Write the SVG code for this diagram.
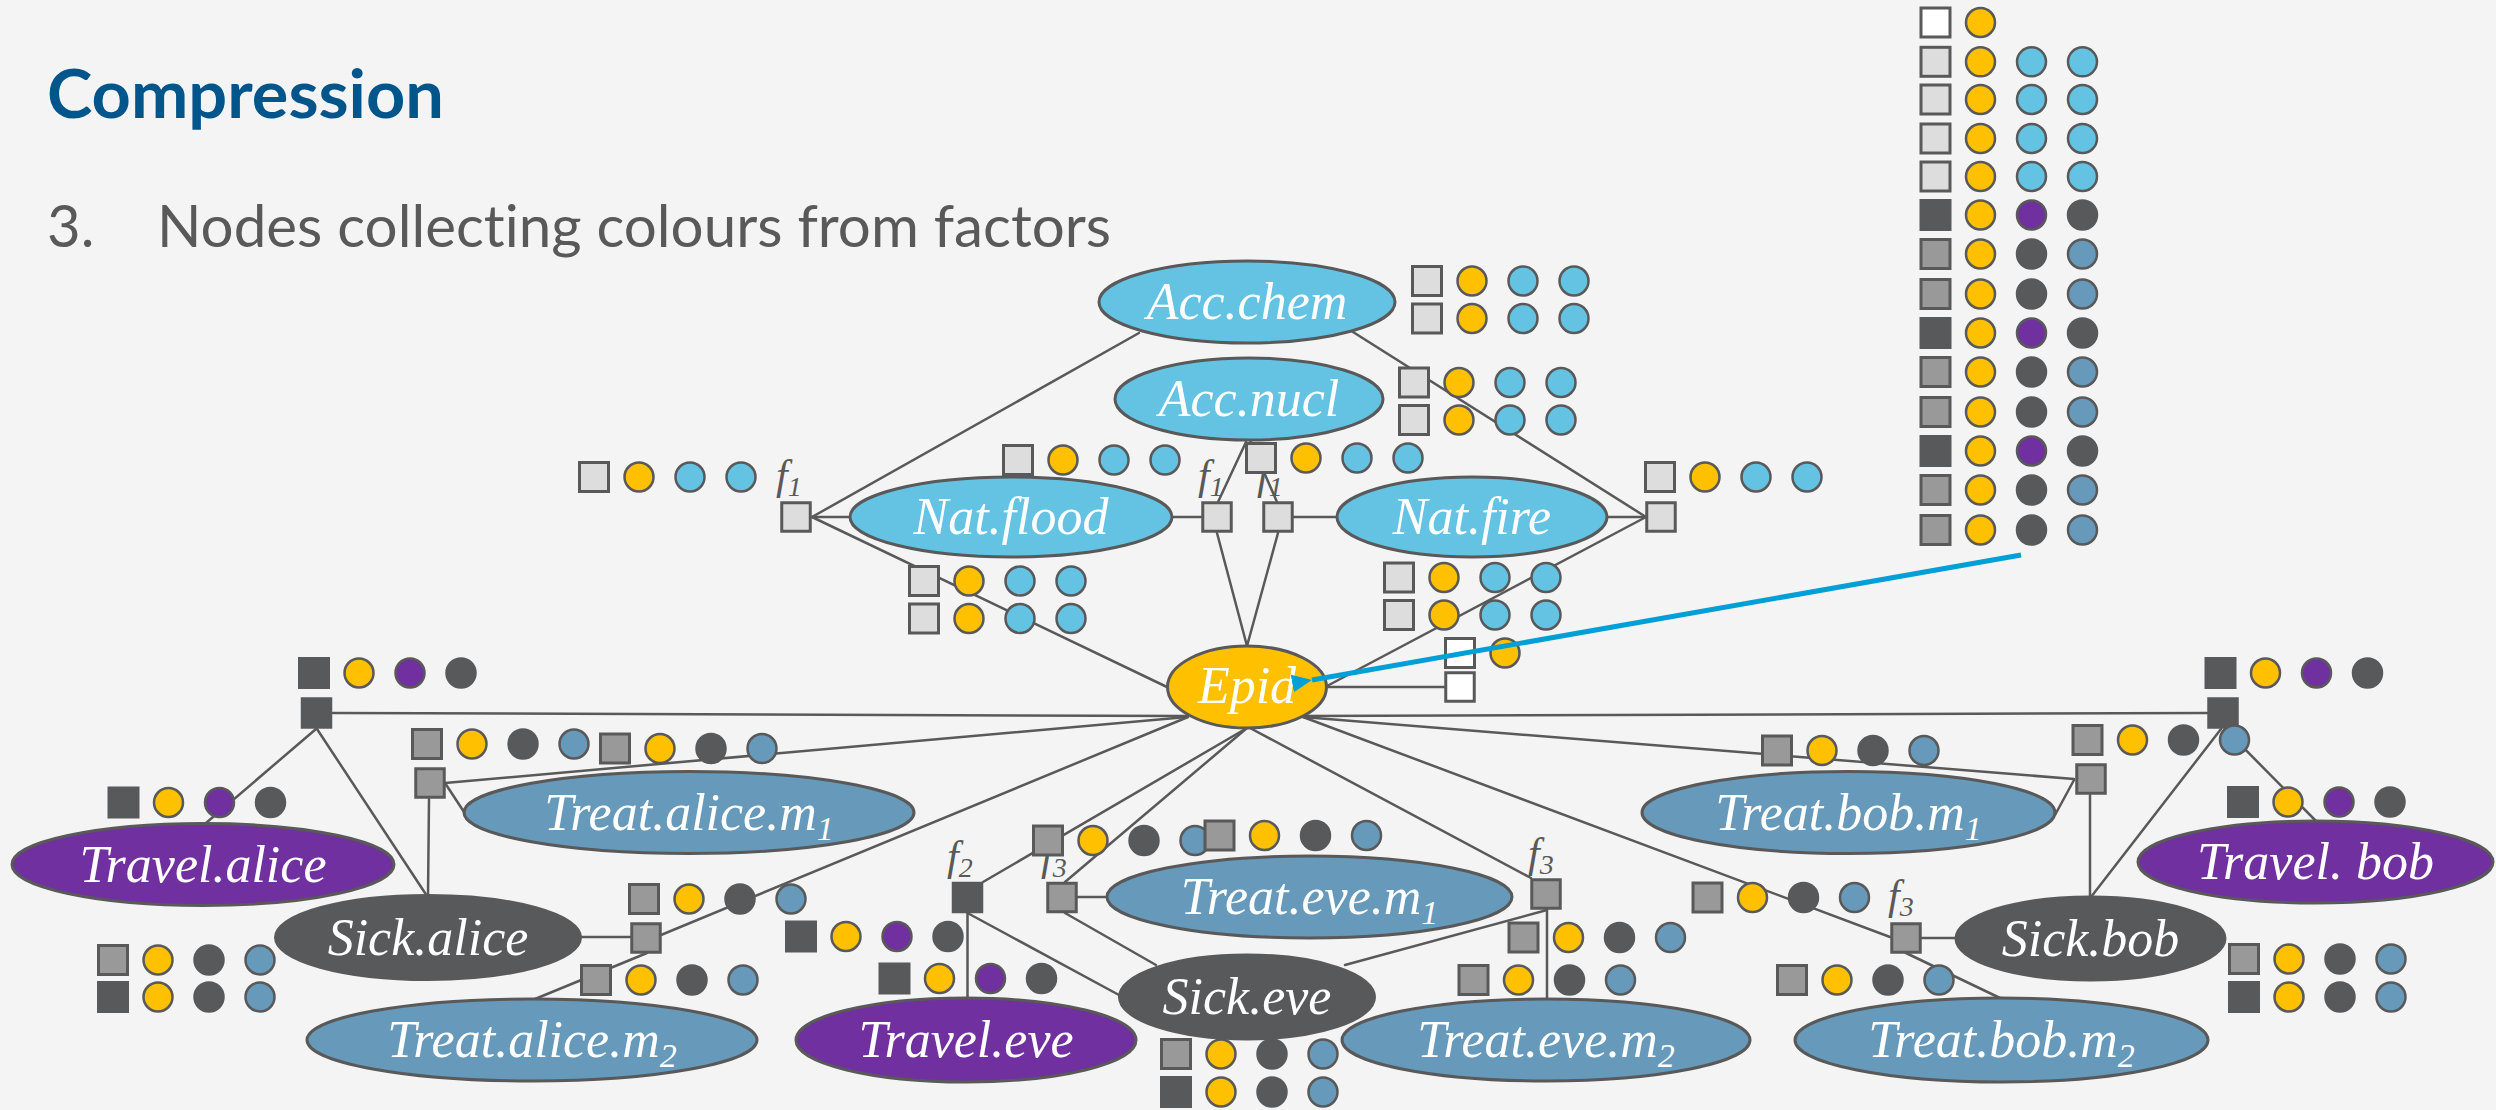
<svg xmlns="http://www.w3.org/2000/svg" width="2496" height="1110" viewBox="0 0 2496 1110">
  <style>
    .bg { fill: #F4F4F4; }
    .title { font-family: Lato, "Open Sans", sans-serif; font-weight: bold; font-size: 67px; fill: #00558B; }
    .sub-h { font-family: Lato, "Open Sans", sans-serif; font-size: 58px; fill: #595959; font-variant-ligatures: none; }
    .edge { stroke: #595959; stroke-width: 2.5; fill: none; stroke-linecap: round; }
    .node { stroke: #595959; stroke-width: 3; }
    .lbl { font-family: "Liberation Serif", "DejaVu Serif", serif; font-style: italic; font-size: 52px; fill: #FFFFFF; text-anchor: middle; }
    .lsub { font-size: 34px; }
    .fl { font-family: "Liberation Serif", "DejaVu Serif", serif; font-style: italic; font-size: 42px; fill: #595959; }
    .fsub { font-size: 28px; }
    .nLB { fill: #64C3E3; }
    .nY { fill: #FFC000; }
    .nP { fill: #7030A0; }
    .nD { fill: #58595B; }
    .nS { fill: #6699BA; }
    .sq { stroke: #595959; stroke-width: 3; }
    .sqW { fill: #FFFFFF; }
    .sqL { fill: #DDDDDD; }
    .sqG { fill: #999999; }
    .sqD { fill: #58595B; stroke: #58595B; stroke-width: 3; }
    .c { stroke: #595959; stroke-width: 2.5; }
    .cY { fill: #FFC000; }
    .cB { fill: #64C3E3; }
    .cP { fill: #7030A0; }
    .cS { fill: #6699BA; }
    .cD { fill: #58595B; stroke: #58595B; stroke-width: 2.5; }
    .arrow { stroke: #00A0D6; stroke-width: 5; fill: none; }
  </style>
  <defs>
    <marker id="head" markerUnits="userSpaceOnUse" markerWidth="22" markerHeight="20" refX="2" refY="10" orient="auto">
      <path d="M22,1 L2,10 L22,19 Z" fill="#00A0D6"/>
    </marker>
    <!-- colour lists: square + circles, origin at the square centre -->
    <g id="rW">
      <rect class="sq sqW" x="-14.5" y="-14.5" width="29" height="29"/>
      <circle class="c cY" cx="45" cy="0" r="14.5"/>
    </g>
    <g id="rL">
      <rect class="sq sqL" x="-14.5" y="-14.5" width="29" height="29"/>
      <circle class="c cY" cx="45" cy="0" r="14.5"/>
      <circle class="c cB" cx="96" cy="0" r="14.5"/>
      <circle class="c cB" cx="147" cy="0" r="14.5"/>
    </g>
    <g id="rD">
      <rect class="sqD" x="-14.5" y="-14.5" width="29" height="29"/>
      <circle class="c cY" cx="45" cy="0" r="14.5"/>
      <circle class="c cP" cx="96" cy="0" r="14.5"/>
      <circle class="cD" cx="147" cy="0" r="14.5"/>
    </g>
    <g id="rG">
      <rect class="sq sqG" x="-14.5" y="-14.5" width="29" height="29"/>
      <circle class="c cY" cx="45" cy="0" r="14.5"/>
      <circle class="cD" cx="96" cy="0" r="14.5"/>
      <circle class="c cS" cx="147" cy="0" r="14.5"/>
    </g>
    <g id="rGd">
      <rect class="sqD" x="-14.5" y="-14.5" width="29" height="29"/>
      <circle class="c cY" cx="45" cy="0" r="14.5"/>
      <circle class="cD" cx="96" cy="0" r="14.5"/>
      <circle class="c cS" cx="147" cy="0" r="14.5"/>
    </g>
  </defs>

  <rect class="bg" x="0" y="0" width="2496" height="1110"/>

  <!-- heading -->
  <text class="title" x="47" y="118" textLength="397" lengthAdjust="spacingAndGlyphs">Compression</text>
  <text class="sub-h" x="47" y="247">3.</text>
  <text class="sub-h" x="157" y="247" textLength="954" lengthAdjust="spacingAndGlyphs">Nodes collecting colours from factors</text>

  <!-- connectors -->
  <g id="connectors">
    <line class="edge" x1="1139" y1="333" x2="812" y2="517"/>
    <line class="edge" x1="1353" y1="332" x2="1646" y2="517"/>
    <line class="edge" x1="812" y1="517" x2="850" y2="517"/>
    <line class="edge" x1="812" y1="517" x2="1167" y2="687"/>
    <line class="edge" x1="1173" y1="517" x2="1201" y2="517"/>
    <line class="edge" x1="1246" y1="442" x2="1218" y2="502"/>
    <line class="edge" x1="1250" y1="440" x2="1277" y2="502"/>
    <line class="edge" x1="1293" y1="517" x2="1337" y2="517"/>
    <line class="edge" x1="1217" y1="533" x2="1247" y2="646"/>
    <line class="edge" x1="1278" y1="533" x2="1247" y2="646"/>
    <line class="edge" x1="1608" y1="517" x2="1646" y2="517"/>
    <line class="edge" x1="1646" y1="517" x2="1327" y2="686"/>
    <line class="edge" x1="1327" y1="687" x2="1446" y2="687"/>

    <line class="edge" x1="333" y1="713" x2="1187" y2="716"/>
    <line class="edge" x1="316" y1="729" x2="206" y2="823"/>
    <line class="edge" x1="317" y1="729" x2="427" y2="896"/>
    <line class="edge" x1="445" y1="783" x2="1187" y2="717"/>
    <line class="edge" x1="445" y1="783" x2="466" y2="815"/>
    <line class="edge" x1="429" y1="799" x2="428" y2="896"/>
    <line class="edge" x1="580" y1="937" x2="631" y2="937"/>
    <line class="edge" x1="661" y1="935" x2="1188" y2="717"/>
    <line class="edge" x1="647" y1="953" x2="535" y2="999"/>
    <line class="edge" x1="1247" y1="728" x2="983" y2="882"/>
    <line class="edge" x1="1247" y1="728" x2="1065" y2="882"/>
    <line class="edge" x1="967.5" y1="913" x2="967.5" y2="998"/>
    <line class="edge" x1="967.5" y1="913" x2="1119" y2="995"/>
    <line class="edge" x1="1078" y1="897" x2="1107" y2="897"/>
    <line class="edge" x1="1065" y1="913" x2="1156" y2="965"/>
    <line class="edge" x1="1250" y1="728" x2="1531" y2="878"/>
    <line class="edge" x1="1547" y1="910" x2="1345" y2="965"/>
    <line class="edge" x1="1547" y1="910" x2="1547" y2="999"/>
    <line class="edge" x1="1303" y1="717" x2="1890" y2="937"/>
    <line class="edge" x1="1921" y1="938" x2="1956" y2="938"/>
    <line class="edge" x1="1906" y1="953" x2="2000" y2="998"/>
    <line class="edge" x1="1303" y1="717" x2="2074" y2="779"/>
    <line class="edge" x1="2074" y1="780" x2="2055" y2="815"/>
    <line class="edge" x1="2090" y1="795" x2="2090" y2="897"/>
    <line class="edge" x1="1303" y1="716" x2="2207" y2="713"/>
    <line class="edge" x1="2225" y1="729" x2="2316" y2="821"/>
    <line class="edge" x1="2221" y1="729" x2="2091" y2="897"/>
  </g>

  <!-- factors -->
  <g id="f-flood-left">
    <rect class="sq sqL" x="781.75" y="502.75" width="28.5" height="28.5"/>
    <text class="fl" x="776" y="489">f<tspan class="fsub" dy="7">1</tspan></text>
  </g>
  <g id="f-flood-right">
    <rect class="sq sqL" x="1202.75" y="502.75" width="28.5" height="28.5"/>
    <text class="fl" x="1198" y="489">f<tspan class="fsub" dy="7">1</tspan></text>
  </g>
  <g id="f-fire-left">
    <rect class="sq sqL" x="1263.75" y="502.75" width="28.5" height="28.5"/>
    <text class="fl" x="1257" y="489">f<tspan class="fsub" dy="7">1</tspan></text>
  </g>
  <g id="f-fire-right">
    <rect class="sq sqL" x="1646.75" y="502.75" width="28.5" height="28.5"/>
  </g>
  <g id="f-epid">
    <rect class="sq sqW" x="1445.75" y="672.75" width="28.5" height="28.5"/>
  </g>
  <g id="f-alice-travel">
    <rect class="sqD" x="302.25" y="698.75" width="28.5" height="28.5"/>
  </g>
  <g id="f-alice-m1">
    <rect class="sq sqG" x="415.75" y="768.75" width="28.5" height="28.5"/>
  </g>
  <g id="f-alice-m2">
    <rect class="sq sqG" x="631.75" y="923.75" width="28.5" height="28.5"/>
  </g>
  <g id="f-eve-travel">
    <rect class="sqD" x="953.25" y="883.25" width="28.5" height="28.5"/>
    <text class="fl" x="947" y="870">f<tspan class="fsub" dy="7">2</tspan></text>
  </g>
  <g id="f-eve-m1">
    <rect class="sq sqG" x="1047.75" y="883.25" width="28.5" height="28.5"/>
    <text class="fl" x="1041" y="870">f<tspan class="fsub" dy="7">3</tspan></text>
  </g>
  <g id="f-eve-m2">
    <rect class="sq sqG" x="1531.75" y="879.75" width="28.5" height="28.5"/>
    <text class="fl" x="1528" y="867">f<tspan class="fsub" dy="7">3</tspan></text>
  </g>
  <g id="f-bob-m2">
    <rect class="sq sqG" x="1891.75" y="923.75" width="28.5" height="28.5"/>
    <text class="fl" x="1888" y="909">f<tspan class="fsub" dy="7">3</tspan></text>
  </g>
  <g id="f-bob-m1">
    <rect class="sq sqG" x="2076.75" y="764.75" width="28.5" height="28.5"/>
  </g>
  <g id="f-bob-travel">
    <rect class="sqD" x="2208.75" y="698.75" width="28.5" height="28.5"/>
  </g>

  <!-- variable nodes -->
  <g id="acc-chem">
    <ellipse class="node nLB" cx="1247" cy="302" rx="148" ry="41"/>
    <text class="lbl" x="1247" y="319">Acc.chem</text>
  </g>
  <g id="acc-nucl">
    <ellipse class="node nLB" cx="1249" cy="399" rx="134" ry="41"/>
    <text class="lbl" x="1249" y="416">Acc.nucl</text>
  </g>
  <g id="nat-flood">
    <ellipse class="node nLB" cx="1011" cy="517" rx="161" ry="40"/>
    <text class="lbl" x="1011" y="534">Nat.flood</text>
  </g>
  <g id="nat-fire">
    <ellipse class="node nLB" cx="1472" cy="517" rx="135" ry="40"/>
    <text class="lbl" x="1472" y="534">Nat.fire</text>
  </g>
  <g id="epid">
    <ellipse class="node nY" cx="1247" cy="687" rx="79.5" ry="41"/>
    <text class="lbl" x="1247" y="703">Epid</text>
  </g>
  <g id="travel-alice">
    <ellipse class="node nP" cx="203" cy="864.5" rx="191" ry="41"/>
    <text class="lbl" x="203" y="882">Travel.alice</text>
  </g>
  <g id="treat-alice-m1">
    <ellipse class="node nS" cx="689" cy="812.5" rx="225" ry="41"/>
    <text class="lbl" x="689" y="830">Treat.alice.m<tspan class="lsub" dy="10">1</tspan></text>
  </g>
  <g id="sick-alice">
    <ellipse class="node nD" cx="428" cy="937.5" rx="152.5" ry="42"/>
    <text class="lbl" x="428" y="955">Sick.alice</text>
  </g>
  <g id="treat-alice-m2">
    <ellipse class="node nS" cx="532" cy="1040" rx="225" ry="41"/>
    <text class="lbl" x="532" y="1057">Treat.alice.m<tspan class="lsub" dy="10">2</tspan></text>
  </g>
  <g id="travel-eve">
    <ellipse class="node nP" cx="966" cy="1040" rx="170" ry="42"/>
    <text class="lbl" x="966" y="1057">Travel.eve</text>
  </g>
  <g id="treat-eve-m1">
    <ellipse class="node nS" cx="1309.5" cy="897" rx="202.5" ry="41"/>
    <text class="lbl" x="1309.5" y="914">Treat.eve.m<tspan class="lsub" dy="10">1</tspan></text>
  </g>
  <g id="sick-eve">
    <ellipse class="node nD" cx="1247" cy="997" rx="127.5" ry="42"/>
    <text class="lbl" x="1247" y="1014">Sick.eve</text>
  </g>
  <g id="treat-eve-m2">
    <ellipse class="node nS" cx="1546" cy="1040" rx="204" ry="41"/>
    <text class="lbl" x="1546" y="1057">Treat.eve.m<tspan class="lsub" dy="10">2</tspan></text>
  </g>
  <g id="treat-bob-m1">
    <ellipse class="node nS" cx="1848.5" cy="812.5" rx="206.5" ry="41"/>
    <text class="lbl" x="1848.5" y="830">Treat.bob.m<tspan class="lsub" dy="10">1</tspan></text>
  </g>
  <g id="travel-bob">
    <ellipse class="node nP" cx="2315.5" cy="862" rx="177.5" ry="41"/>
    <text class="lbl" x="2315.5" y="879">Travel. bob</text>
  </g>
  <g id="sick-bob">
    <ellipse class="node nD" cx="2090.5" cy="938.5" rx="134.5" ry="41.5"/>
    <text class="lbl" x="2090.5" y="956">Sick.bob</text>
  </g>
  <g id="treat-bob-m2">
    <ellipse class="node nS" cx="2001.5" cy="1040" rx="206.5" ry="42"/>
    <text class="lbl" x="2001.5" y="1057">Treat.bob.m<tspan class="lsub" dy="10">2</tspan></text>
  </g>

  <!-- colour lists sent along the edges -->
  <g id="messages">
    <use href="#rL" x="594" y="477"/>
    <use href="#rL" x="1018" y="460"/>
    <use href="#rL" x="1261" y="458"/>
    <use href="#rL" x="1427" y="281"/>
    <use href="#rL" x="1427" y="318.5"/>
    <use href="#rL" x="1414" y="382.5"/>
    <use href="#rL" x="1414" y="420"/>
    <use href="#rL" x="1660" y="477"/>
    <use href="#rL" x="924" y="581"/>
    <use href="#rL" x="924" y="618.5"/>
    <use href="#rL" x="1399" y="577.5"/>
    <use href="#rL" x="1399" y="615"/>
    <use href="#rW" x="1460" y="653"/>

    <use href="#rD" x="314" y="673"/>
    <use href="#rD" x="123.5" y="802.5"/>
    <use href="#rG" x="427" y="744"/>
    <use href="#rG" x="615" y="748.5"/>
    <use href="#rG" x="644" y="899"/>
    <use href="#rG" x="596" y="980"/>
    <use href="#rG" x="113" y="960"/>
    <use href="#rGd" x="113" y="997"/>
    <use href="#rD" x="801" y="936.5"/>
    <use href="#rD" x="894.5" y="978.5"/>
    <use href="#rG" x="1048" y="840.5"/>
    <use href="#rG" x="1219.5" y="835.5"/>
    <use href="#rG" x="1176" y="1054"/>
    <use href="#rGd" x="1176" y="1092"/>
    <use href="#rD" x="2220.5" y="673"/>
    <use href="#rG" x="2087.5" y="740"/>
    <use href="#rG" x="1777" y="750.5"/>
    <use href="#rD" x="2243" y="802"/>
    <use href="#rG" x="2244" y="959"/>
    <use href="#rGd" x="2244" y="997"/>
    <use href="#rG" x="1523.5" y="937.5"/>
    <use href="#rG" x="1473.5" y="980"/>
    <use href="#rG" x="1707.5" y="897.5"/>
    <use href="#rG" x="1792" y="980"/>
  </g>

  <!-- collected colours (one row per factor) -->
  <g id="collected">
    <use href="#rW" x="1935.5" y="22.5"/>
    <use href="#rL" x="1935.5" y="61.8"/>
    <use href="#rL" x="1935.5" y="99.5"/>
    <use href="#rL" x="1935.5" y="138.5"/>
    <use href="#rL" x="1935.5" y="176.5"/>
    <use href="#rD" x="1935.5" y="215"/>
    <use href="#rG" x="1935.5" y="254"/>
    <use href="#rG" x="1935.5" y="294"/>
    <use href="#rD" x="1935.5" y="333"/>
    <use href="#rG" x="1935.5" y="372"/>
    <use href="#rG" x="1935.5" y="412"/>
    <use href="#rD" x="1935.5" y="451"/>
    <use href="#rG" x="1935.5" y="490"/>
    <use href="#rG" x="1935.5" y="530"/>
  </g>

  <!-- pointer to Epid -->
  <g id="pointer">
    <line class="arrow" x1="2021" y1="555" x2="1312" y2="680" marker-end="url(#head)"/>
  </g>
</svg>
